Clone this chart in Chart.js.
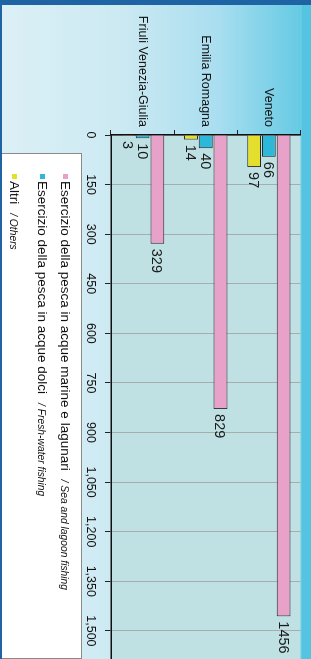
<!DOCTYPE html>
<html>
<head>
<meta charset="utf-8">
<script src="https://cdn.jsdelivr.net/npm/chart.js@4.4.1/dist/chart.umd.min.js"></script>
<style>
  html, body { margin: 0; padding: 0; width: 311px; height: 659px; overflow: hidden; background: #fff; }
  /* the chart is drawn upright, then turned a quarter turn clockwise */
  #wrap { position: absolute; left: 0; top: 0; width: 659px; height: 311px;
          transform-origin: 0 0; transform: translate(311px, 0) rotate(90deg);
          background: linear-gradient(to top, #dcf0f6 0%, #cbe9f2 40%, #a9def0 70%, #5ec8e2 100%);
          font-family: "Liberation Sans", Arial, sans-serif; overflow: hidden; }
  #topStrip { position: absolute; left: 0; top: 0; width: 659px; height: 9px; background: #55c4e0; }
  #chart { position: absolute; left: 0; top: 0; }
  #frameL { position: absolute; left: 0; top: 0; width: 5px; height: 311px; background: #1e63a4; }
  #frameB { position: absolute; left: 0; top: 309px; width: 659px; height: 2px; background: #1e63a4; }
  #legend { position: absolute; left: 153px; top: 229px; width: 506px; height: 90px;
            background: #fff; border: 1px solid #8a8a8a; box-sizing: border-box; }
  .item { position: absolute; left: 20px; white-space: nowrap; color: #111; }
  .item i.sw { display: inline-block; width: 5px; height: 5px; margin-right: 2px; vertical-align: middle; }
  .item .it { font-size: 13.5px; }
  .item .en { font-size: 10.3px; font-style: italic; }
</style>
</head>
<body>
<div id="wrap">
  <div id="topStrip"></div>
  <canvas id="chart" width="659" height="311"></canvas>
  <div id="legend"></div>
  <div id="frameL"></div>
  <div id="frameB"></div>
</div>
<script>
const regions = ["Veneto", "Emilia Romagna", "Friuli Venezia-Giulia"];
const seaLagoon = [1456, 829, 329];
const freshWater = [66, 40, 10];
const others = [97, 14, 3];
const valueTicks = [0, 150, 300, 450, 600, 750, 900, 1050, 1200, 1350, 1500];

const seriesNames = [
  ["Esercizio della pesca in acque marine e lagunari", "/ Sea and lagoon fishing"],
  ["Esercizio della pesca in acque dolci", "/ Fresh-water fishing"],
  ["Altri", "/ Others"]
];
const seriesColors = ["#e8a2ca", "#2db7d9", "#e4de2c"];

const FONT = "'Liberation Sans', Arial, sans-serif";

// plot background
const plotBg = {
  id: "plotBg",
  beforeDraw(chart) {
    const a = chart.chartArea, ctx = chart.ctx;
    ctx.save();
    ctx.fillStyle = "#c0e1e4";
    ctx.fillRect(a.left, a.top, a.right - a.left, a.bottom - a.top);
    ctx.restore();
  }
};

// value at the end of each bar
const barValues = {
  id: "barValues",
  afterDatasetsDraw(chart) {
    const ctx = chart.ctx;
    ctx.save();
    ctx.font = "14.5px " + FONT;
    ctx.fillStyle = "#1a1a1a";
    ctx.textAlign = "left";
    ctx.textBaseline = "middle";
    chart.data.datasets.forEach((ds, di) => {
      chart.getDatasetMeta(di).data.forEach((bar, i) => {
        ctx.fillText(ds.data[i], bar.x + 5, bar.y + 1);
      });
    });
    ctx.restore();
  }
};

new Chart(document.getElementById("chart"), {
  type: "bar",
  data: {
    labels: regions,
    datasets: [
      { label: seriesNames[0].join(" "), data: seaLagoon, backgroundColor: seriesColors[0] },
      { label: seriesNames[1].join(" "), data: freshWater, backgroundColor: seriesColors[1] },
      { label: seriesNames[2].join(" "), data: others, backgroundColor: seriesColors[2] }
    ]
  },
  options: {
    indexAxis: "y",
    responsive: false,
    animation: false,
    devicePixelRatio: 1,
    layout: { padding: { top: 9, right: 0, bottom: 0, left: 0 } },
    datasets: {
      bar: { borderColor: "#2a2a2a", borderWidth: 1, categoryPercentage: 0.7, barPercentage: 0.94 }
    },
    plugins: { legend: { display: false }, tooltip: { enabled: false } },
    scales: {
      x: {
        min: 0, max: 1585,
        ticks: { maxRotation: 0, autoSkip: false, padding: 7,
                 color: "#111", font: { family: FONT, size: 12.5 } },
        afterBuildTicks(scale) { scale.ticks = valueTicks.map(v => ({ value: v })); },
        afterFit(scale) { scale.height = 111; },
        grid: { color: "#a7adad", lineWidth: 1, tickLength: 6, tickColor: "#222" },
        border: { display: true, color: "#111", width: 1.5 }
      },
      y: {
        ticks: { padding: 3, color: "#111", font: { family: FONT, size: 12.5 } },
        afterFit(scale) { scale.width = 135; },
        grid: { drawOnChartArea: false, tickLength: 5, tickColor: "#222" },
        border: { display: true, color: "#111", width: 1.5 }
      }
    }
  },
  plugins: [plotBg, barValues]
});

// legend, with italic English half
const legend = document.getElementById("legend");
const itemTops = [15, 38, 66];
seriesNames.forEach((n, i) => {
  const d = document.createElement("div");
  d.className = "item";
  d.style.top = (itemTops[i] - 9) + "px";
  d.innerHTML = '<i class="sw" style="background:' + seriesColors[i] + '"></i>' +
    '<span class="it">' + n[0] + '</span>&nbsp;&nbsp;<span class="en">' + n[1] + '</span>';
  legend.appendChild(d);
});
</script>
</body>
</html>
